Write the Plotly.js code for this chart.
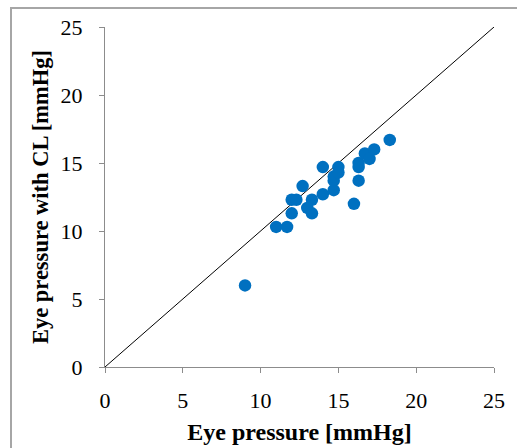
<!DOCTYPE html>
<html>
<head>
<meta charset="utf-8">
<script src="https://cdn.plot.ly/plotly-3.0.1.min.js"></script>
<style>
  html, body { margin: 0; padding: 0; background: #fff; }
  #wrap { position: relative; width: 517px; height: 448px; }
  #chart { width: 517px; height: 448px; }
  #frame { position: absolute; left: 10px; top: 7px; width: 520px; height: 460px;
           border-left: 2px solid #a6a6a6; border-top: 2px solid #a6a6a6; pointer-events: none; }
</style>
</head>
<body>
<div id="wrap">
  <div id="chart"></div>
  <div id="frame"></div>
</div>
<script>
// Eye pressure without CL (x) vs with CL (y), mmHg
const eyePressure = [9, 11, 11.7, 12, 12, 12.3, 12.7, 13, 13.3, 13.3, 14, 14, 14.7, 14.7, 14.7, 15, 15, 16, 16.3, 16.3, 16.3, 16.7, 17, 17.3, 18.3];
const eyePressureCL = [6, 10.3, 10.3, 11.3, 12.3, 12.3, 13.3, 11.7, 11.3, 12.3, 14.7, 12.7, 13, 13.7, 14, 14.7, 14.3, 12, 13.7, 14.7, 15, 15.7, 15.3, 16, 16.7];
const identityLine = [0, 25];
const tickValues = [0, 5, 10, 15, 20, 25];

const serif = "'Liberation Serif', 'Times New Roman', Times, serif";

const traces = [
  {
    x: identityLine, y: identityLine, mode: 'lines', type: 'scatter',
    line: { color: '#000000', width: 1 }, hoverinfo: 'skip', showlegend: false
  },
  {
    x: eyePressure, y: eyePressureCL, mode: 'markers', type: 'scatter',
    marker: { color: '#0070C0', size: 12.5 }, showlegend: false
  }
];

const axisCommon = {
  range: [0, 25], tickvals: tickValues, ticktext: tickValues.map(String),
  showgrid: false, zeroline: false, showline: true, linecolor: '#8c8c8c', linewidth: 1,
  ticks: 'outside', ticklen: 5, tickcolor: '#8c8c8c', tickwidth: 1,
  tickfont: { family: serif, size: 22, color: '#000' }
};

const layout = {
  width: 517, height: 448,
  margin: { l: 105, r: 23, t: 27, b: 81 },
  paper_bgcolor: '#fff', plot_bgcolor: '#fff',
  font: { family: serif },
  showlegend: false,
  xaxis: Object.assign({}, axisCommon, {
    title: { text: '<b>Eye pressure [mmHg]</b>', font: { family: serif, size: 24, color: '#000' }, standoff: 10 },
    ticklabelstandoff: 9
  }),
  yaxis: Object.assign({}, axisCommon, {
    title: { text: '<b>Eye pressure with CL [mmHg]</b>', font: { family: serif, size: 22.5, color: '#000' }, standoff: 5 },
    ticklabelstandoff: 12
  })
};

Plotly.newPlot('chart', traces, layout, { displayModeBar: false, staticPlot: true });
</script>
</body>
</html>
